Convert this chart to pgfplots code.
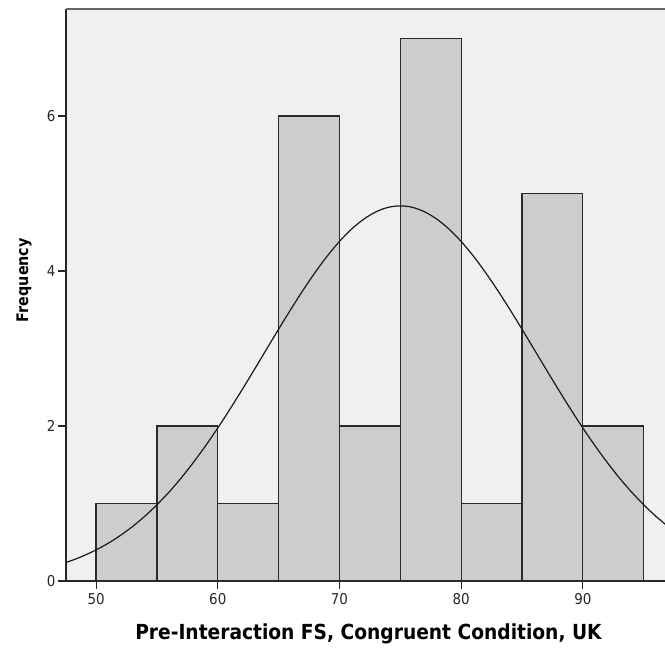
\documentclass[border=0pt]{standalone}
\usepackage{pgfplots}
\pgfplotsset{compat=1.18}
\usepackage{fontspec}
\setmainfont{DejaVu Sans Condensed}
\definecolor{bgc}{HTML}{F0F0F0}
\definecolor{barc}{HTML}{CDCDCD}
\definecolor{edgec}{HTML}{2A2A2A}
\begin{document}
\begin{tikzpicture}
\useasboundingbox (-66bp,-67bp) rectangle (599bp,581bp);
\begin{axis}[
  at={(0,0)}, anchor=south west,
  scale only axis, width=599bp, height=572bp,
  xmin=47.53, xmax=96.75, ymin=0, ymax=7.38,
  axis x line*=bottom, axis y line*=left,
  axis line style={line width=1.2bp, draw=black!85},
  axis background/.style={fill=bgc},
  xtick={50,60,70,80,90}, ytick={0,2,4,6},
  tick align=outside, major tick length=8bp,
  tick style={line width=1.1bp, black!85},
  ticklabel style={font=\fontsize{15}{17}\selectfont, text=black!85},
  xticklabel style={yshift=-1bp},
  yticklabel style={xshift=1bp},
  /pgf/number format/assume math mode=true,
  xlabel={\bfseries Pre-Interaction FS, Congruent Condition, UK},
  ylabel={\bfseries Frequency},
  xlabel style={font=\fontsize{20.8}{22}\selectfont, at={(rel axis cs:0.5,0)}, anchor=north, yshift=-39bp, xshift=3bp},
  ylabel style={font=\fontsize{16}{18}\selectfont, at={(rel axis cs:0,0.526)}, anchor=south, yshift=31bp},
  clip=true,
]
\addplot[ybar interval, fill=barc, draw=edgec, line width=1.2bp] coordinates {
(50,1) (55,2) (60,1) (65,6) (70,2) (75,7) (80,1) (85,5) (90,2) (95,2)
};
\addplot[black!90, line width=1.2bp, smooth, no marks] coordinates {
(47,0.213) (48,0.265) (49,0.327) (50,0.401) (51,0.487) (52,0.588) (53,0.703) (54,0.835)
(55,0.983) (56,1.148) (57,1.330) (58,1.530) (59,1.745) (60,1.974) (61,2.216) (62,2.468)
(63,2.726) (64,2.988) (65,3.249) (66,3.504) (67,3.750) (68,3.981) (69,4.193) (70,4.381)
(71,4.541) (72,4.669) (73,4.763) (74,4.821) (75,4.840) (76,4.821) (77,4.763) (78,4.669)
(79,4.541) (80,4.381) (81,4.193) (82,3.981) (83,3.750) (84,3.504) (85,3.249) (86,2.988)
(87,2.726) (88,2.468) (89,2.216) (90,1.974) (91,1.745) (92,1.530) (93,1.330) (94,1.148)
(95,0.983) (96,0.835) (97,0.703)
};
\draw[line width=1.4bp, black!60] (rel axis cs:0,1) -- (rel axis cs:1,1);
\end{axis}
\end{tikzpicture}
\end{document}
